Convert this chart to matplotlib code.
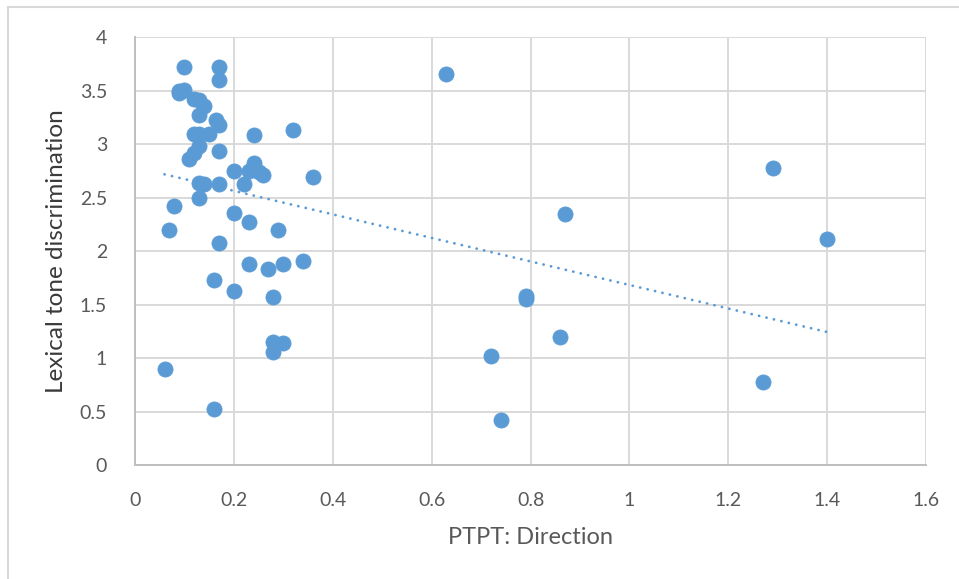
import numpy as np
import matplotlib
matplotlib.use("Agg")
import matplotlib.pyplot as plt
from matplotlib.patches import Rectangle

# PTPT direction score vs. lexical tone discrimination score per participant
ptpt_direction = [
    0.06, 0.07, 0.08, 0.09, 0.09, 0.10, 0.10, 0.11, 0.12, 0.12,
    0.12, 0.13, 0.14, 0.13, 0.13, 0.13, 0.13, 0.14, 0.13, 0.15,
    0.165, 0.17, 0.17, 0.17, 0.17, 0.17, 0.17, 0.16, 0.16, 0.20,
    0.20, 0.20, 0.22, 0.23, 0.24, 0.24, 0.25, 0.26, 0.24, 0.23,
    0.23, 0.27, 0.29, 0.30, 0.34, 0.28, 0.28, 0.30, 0.28, 0.32,
    0.36, 0.63, 0.72, 0.74, 0.79, 0.79, 0.86, 0.87, 1.27, 1.29,
    1.40,
]
tone_discrimination = [
    0.90, 2.20, 2.42, 3.48, 3.50, 3.51, 3.72, 2.86, 2.92, 3.10,
    3.42, 3.41, 3.36, 3.27, 3.10, 2.98, 2.64, 2.63, 2.50, 3.10,
    3.23, 3.18, 3.72, 3.60, 2.94, 2.63, 2.08, 1.73, 0.53, 2.75,
    2.36, 1.63, 2.63, 2.75, 2.82, 2.78, 2.74, 2.71, 3.09, 2.27,
    1.88, 1.83, 2.20, 1.88, 1.91, 1.57, 1.15, 1.14, 1.06, 3.13,
    2.69, 3.66, 1.02, 0.42, 1.58, 1.55, 1.20, 2.35, 0.78, 2.78,
    2.11,
]
x_ticks = [0, 0.2, 0.4, 0.6, 0.8, 1, 1.2, 1.4, 1.6]
x_tick_labels = ["0", "0.2", "0.4", "0.6", "0.8", "1", "1.2", "1.4", "1.6"]
y_ticks = [0, 0.5, 1, 1.5, 2, 2.5, 3, 3.5, 4]
y_tick_labels = ["0", "0.5", "1", "1.5", "2", "2.5", "3", "3.5", "4"]

BLUE = "#5B9BD5"
GRID = "#D9D9D9"

plt.rcParams["font.family"] = ["Lato", "DejaVu Sans"]

fig = plt.figure(figsize=(9.59, 5.79), dpi=100)
ax = fig.add_axes([0.1406, 0.1965, 0.8253, 0.7392])

# chart-area frame
fig.patches.append(Rectangle((8 / 959, -0.1), 1.2, 1.1 - 6.7 / 579,
                             transform=fig.transFigure, fill=False,
                             edgecolor=GRID, linewidth=1.5))

x = np.array(ptpt_direction)
y = np.array(tone_discrimination)
ax.scatter(x, y, s=118, color=BLUE, edgecolors=BLUE, linewidths=0.6,
           zorder=3, clip_on=False)

# linear trendline over the observed range
slope, intercept = np.polyfit(x, y, 1)
xs = np.array([x.min(), x.max()])
ax.plot(xs, slope * xs + intercept, color=BLUE, linewidth=2.0,
        linestyle=(0, (0.05, 2.7)), dash_capstyle="round", zorder=4)

ax.set_xlim(0, 1.6)
ax.set_ylim(0, 4)
ax.set_xticks(x_ticks)
ax.set_xticklabels(x_tick_labels)
ax.set_yticks(y_ticks)
ax.set_yticklabels(y_tick_labels)
ax.grid(True, color=GRID, linewidth=1.4, zorder=0)
ax.set_axisbelow(True)
for side in ["top", "right"]:
    ax.spines[side].set_visible(False)
for side in ["left", "bottom"]:
    ax.spines[side].set_color("#BFBFBF")
    ax.spines[side].set_linewidth(1.4)
ax.tick_params(length=0, labelsize=14, colors="#595959")
ax.tick_params(axis="x", pad=19)
ax.tick_params(axis="y", pad=20)

ax.set_xlabel("PTPT: Direction", fontsize=17, color="#595959", labelpad=13)
ax.set_ylabel("Lexical tone discrimination", fontsize=17.5, color="#3A3A3A",
              labelpad=9)

fig.savefig("out.png", dpi=100)
